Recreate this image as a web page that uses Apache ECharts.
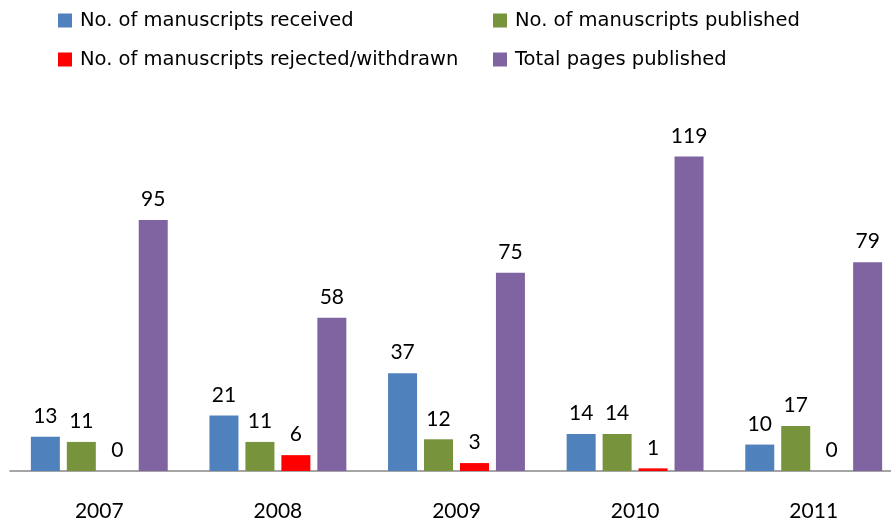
<!DOCTYPE html>
<html>
<head>
<meta charset="utf-8">
<script src="https://cdn.jsdelivr.net/npm/echarts@6/dist/echarts.min.js"></script>
<style>
  html, body { margin: 0; padding: 0; background: #fff; }
  #main { width: 891px; height: 526px; }
</style>
</head>
<body>
<div id="main"></div>
<script>
// chart data
let years = ['2007', '2008', '2009', '2010', '2011'];
let received = [13, 21, 37, 14, 10];
let published = [11, 11, 12, 14, 17];
let rejected = [0, 6, 3, 1, 0];
let pages = [95, 58, 75, 119, 79];

let seriesNames = [
    'No. of manuscripts received',
    'No. of manuscripts published',
    'No. of manuscripts rejected/withdrawn',
    'Total pages published'
];
let colors = ['#4F81BD', '#77933C', '#FF0000', '#8064A2'];

let numberFont = 'Lato, "Liberation Sans", sans-serif';
let legendFont = '"DejaVu Sans", sans-serif';

let chart = echarts.init(document.getElementById('main'));

// one legend per entry so the two columns line up like the original
let legendPos = [
    {left: 58, top: 10},
    {left: 493, top: 10},
    {left: 58, top: 49},
    {left: 493, top: 49}
];
let legends = seriesNames.map((name, i) => ({
    data: [name],
    left: legendPos[i].left,
    top: legendPos[i].top,
    padding: 0,
    itemWidth: 14,
    itemHeight: 14,
    itemGap: 0,
    icon: 'rect',
    selectedMode: false,
    textStyle: {
        fontFamily: legendFont,
        fontSize: 19.5,
        lineHeight: 21,
        color: '#000',
        padding: [0, 0, 0, 3]
    }
}));

let label = {
    show: true,
    position: 'top',
    distance: 10,
    fontFamily: numberFont,
    fontSize: 21,
    color: '#000'
};

let option = {
    animation: false,
    backgroundColor: '#fff',
    color: colors,
    legend: legends,
    grid: {
        left: 10,
        width: 893,
        top: 101,
        bottom: 55,
        outerBoundsMode: 'none'
    },
    xAxis: {
        type: 'category',
        data: years,
        axisTick: {show: false},
        axisLine: {lineStyle: {color: '#888888', width: 1.5}},
        axisLabel: {
            margin: 30,
            fontFamily: numberFont,
            fontSize: 21,
            color: '#000'
        }
    },
    yAxis: {
        type: 'value',
        min: 0,
        max: 140,
        show: false,
        splitLine: {show: false}
    },
    series: [received, published, rejected, pages].map((values, i) => ({
        name: seriesNames[i],
        type: 'bar',
        data: values,
        barWidth: 29,
        barGap: '24%',
        label: label
    }))
};

chart.setOption(option);
</script>
</body>
</html>
